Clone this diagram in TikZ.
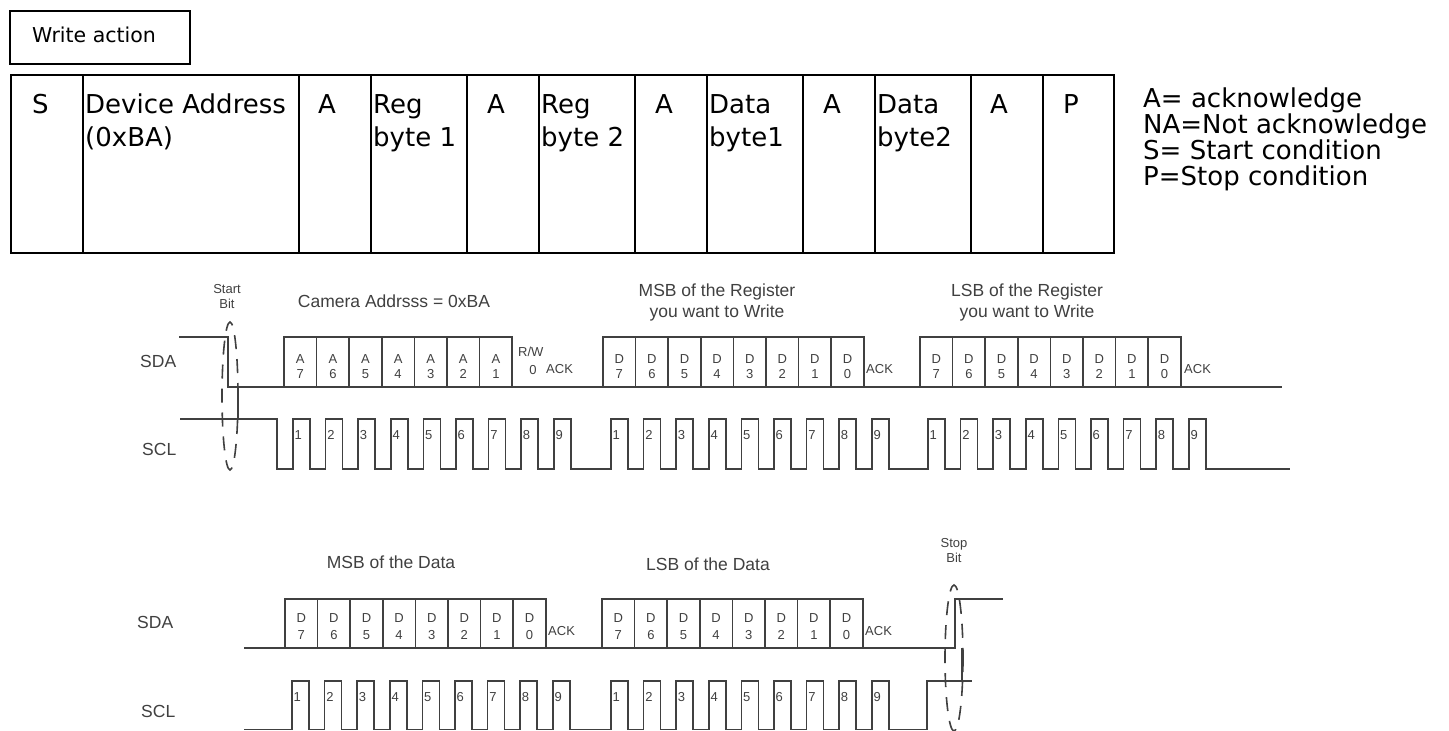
\documentclass[tikz,border=0pt]{standalone}
\usepackage{fontspec}
\setmainfont{DejaVu Sans}
\newfontfamily\arialf{Liberation Sans}
\begin{document}
\begin{tikzpicture}[x=1pt,y=-1pt,
  cell/.style={draw, line width=2pt, minimum height=178pt, inner sep=0pt, anchor=north west},
  ttxt/.style={font=\fontsize{26}{30}\selectfont, anchor=base west, inner sep=0pt},
  wave/.style={line width=1.7pt, draw=black!75},
  lbl/.style={font=\arialf\fontsize{17.5}{21}\selectfont, text=black!75, inner sep=0pt, anchor=base},
  tiny/.style={font=\arialf\fontsize{13}{15}\selectfont, text=black!75, inner sep=0pt, anchor=base},
  bitbox/.style={draw=black!75, line width=1.7pt, minimum width=32.6pt, inner sep=0pt},
  ell/.style={draw=black!75, line width=1.6pt, dash pattern=on 14pt off 10pt}]
\useasboundingbox (0,0) rectangle (1449,731);
\fill[white] (0,0) rectangle (1449,731);

% ---- Write action box
\node[draw, line width=1.6pt, minimum width=180pt, minimum height=53pt, anchor=north west, inner sep=0pt] (wa) at (9,10) {};
\node[font=\fontsize{20.5}{24}\selectfont, anchor=base west, inner sep=0pt] (watxt) at (32,42) {Write action};

% ---- frame table
\foreach \n/\a/\b in {cS/10/82, cDev/82/298, cA1/298/370, cR1/370/466, cA2/466/538, cR2/538/634, cA3/634/706, cD1/706/802, cA4/802/874, cD2/874/970, cA5/970/1042, cP/1042/1113}
  \node[cell, minimum width={\b-\a}] (\n) at (\a,74) {};

\node[ttxt] (tS) at (32,113) {S};
\node[ttxt] (tDev1) at (85,113) {Device Address};
\node[ttxt] (tDev2) at (85,146) {(0xBA)};
\node[ttxt] (tA1) at (318,113) {A};
\node[ttxt] (tR1a) at (373,113) {Reg};
\node[ttxt] (tR1b) at (373,146) {byte 1};
\node[ttxt] (tA2) at (487,113) {A};
\node[ttxt] (tR2a) at (541,113) {Reg};
\node[ttxt] (tR2b) at (541,146) {byte 2};
\node[ttxt] (tA3) at (655,113) {A};
\node[ttxt] (tD1a) at (709,113) {Data};
\node[ttxt] (tD1b) at (709,146) {byte1};
\node[ttxt] (tA4) at (823,113) {A};
\node[ttxt] (tD2a) at (877,113) {Data};
\node[ttxt] (tD2b) at (877,146) {byte2};
\node[ttxt] (tA5) at (990,113) {A};
\node[ttxt] (tP) at (1063,113) {P};

% ---- legend
\node[ttxt] (lg1) at (1143,107) {A= acknowledge};
\node[ttxt] (lg2) at (1143,133) {NA=Not acknowledge};
\node[ttxt] (lg3) at (1143,159) {S= Start condition};
\node[ttxt] (lg4) at (1143,185) {P=Stop condition};

% ================= upper timing diagram
\node[lbl, anchor=base west] (sda1) at (140,367) {SDA};
\node[lbl, anchor=base west] (scl1) at (142,455) {SCL};
\node[tiny] (startA) at (227,293) {Start};
\node[tiny] (startB) at (227,308) {Bit};
\node[lbl] (cam) at (394,307) {Camera Addrsss = 0xBA};
\node[lbl] (msbr1) at (717,296) {MSB of the Register};
\node[lbl] (msbr2) at (717,317) {you want to Write};
\node[lbl] (lsbr1) at (1027,296) {LSB of the Register};
\node[lbl] (lsbr2) at (1027,317) {you want to Write};

% SDA line
\draw[wave] (179,337) -- (228,337) -- (228,387) -- (1282,387);
% address bits
\foreach \k/\d in {0/7,1/6,2/5,3/4,4/3,5/2,6/1} {
  \node[bitbox, minimum height=50pt] (ua\d) at ({284+32.6*\k+16.3},362) {};
  \node[tiny] (uaL\d) at ({284+32.6*\k+16.3},363.5) {A};
  \node[tiny] (uaN\d) at ({284+32.6*\k+16.3},378.5) {\d};
}
\node[tiny, anchor=base west] (rw) at (518,356.5) {R/W};
\node[tiny] (rw0) at (533,374.5) {0};
\node[tiny, anchor=base west] (ack1) at (546,373.5) {ACK};
% register MSB / LSB bits
\foreach \s/\nm in {603/ub,920/uc} {
  \foreach \k/\d in {0/7,1/6,2/5,3/4,4/3,5/2,6/1,7/0} {
    \node[bitbox, minimum height=50pt] (\nm\d) at ({\s+32.6*\k+16.3},362) {};
    \node[tiny] (\nm L\d) at ({\s+32.6*\k+16.3},363.5) {D};
    \node[tiny] (\nm N\d) at ({\s+32.6*\k+16.3},378.5) {\d};
  }
}
\node[tiny, anchor=base west] (ack2) at (866,373.5) {ACK};
\node[tiny, anchor=base west] (ack3) at (1184,373.5) {ACK};

% SCL line
\draw[wave] (180,419) -- (277,419) -- (277,469)
  \foreach \g in {293,611,928} { \foreach \i in {0,...,8} {
     -- ({\g+32.6*\i},469) -- ({\g+32.6*\i},419) -- ({\g+32.6*\i+17},419) -- ({\g+32.6*\i+17},469) } }
  -- (1290,469);
\foreach \g in {293,611,928} { \foreach \i in {1,...,9} {
  \node[tiny, anchor=base west] (uclk\g-\i) at ({\g+32.6*(\i-1)+1.5},439.5) {\i};
} }

% start condition marker
\draw[wave] (238,387) -- (238,419);
\draw[ell] (230,396) ellipse [x radius=8, y radius=74];

% ================= lower timing diagram
\node[lbl, anchor=base west] (sda2) at (137,628) {SDA};
\node[lbl, anchor=base west] (scl2) at (141,717) {SCL};
\node[lbl] (msbd) at (391,568) {MSB of the Data};
\node[lbl] (lsbd) at (708,570) {LSB of the Data};
\node[tiny] (stopA) at (954,547) {Stop};
\node[tiny] (stopB) at (954,562) {Bit};

\draw[wave] (244,648) -- (955,648) -- (955,599) -- (1003,599);
\foreach \s/\nm in {285/la,602/lb} {
  \foreach \k/\d in {0/7,1/6,2/5,3/4,4/3,5/2,6/1,7/0} {
    \node[bitbox, minimum height=49pt] (\nm\d) at ({\s+32.6*\k+16.3},623.5) {};
    \node[tiny] (\nm L\d) at ({\s+32.6*\k+16.3},622.5) {D};
    \node[tiny] (\nm N\d) at ({\s+32.6*\k+16.3},639.5) {\d};
  }
}
\node[tiny, anchor=base west] (ack4) at (548,635.5) {ACK};
\node[tiny, anchor=base west] (ack5) at (865,635.5) {ACK};

\draw[wave] (244,729.5)
  \foreach \g in {292,611} { \foreach \i in {0,...,8} {
     -- ({\g+32.6*\i},729.5) -- ({\g+32.6*\i},681) -- ({\g+32.6*\i+17},681) -- ({\g+32.6*\i+17},729.5) } }
  -- (927,729.5) -- (927,681) -- (972,681);
\foreach \g in {292,611} { \foreach \i in {1,...,9} {
  \node[tiny, anchor=base west] (lclk\g-\i) at ({\g+32.6*(\i-1)+1.5},701.5) {\i};
} }

% stop condition marker
\draw[wave] (962,648) -- (962,681);
\draw[ell] (954,658) ellipse [x radius=9, y radius=73];
\end{tikzpicture}
\end{document}
